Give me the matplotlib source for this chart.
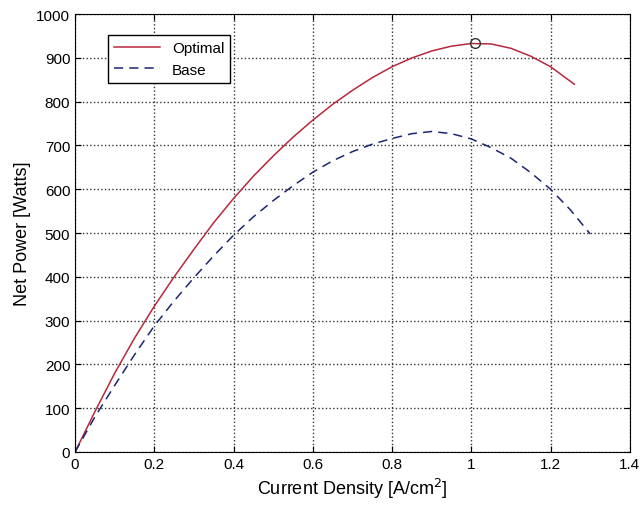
import matplotlib
matplotlib.use("Agg")
import matplotlib.pyplot as plt

plt.rcParams["font.family"] = ["Liberation Sans", "DejaVu Sans"]

# Values
current_opt = [0.0, 0.05, 0.1, 0.15, 0.2, 0.25, 0.3, 0.35, 0.4, 0.45, 0.5, 0.55, 0.6,
               0.65, 0.7, 0.75, 0.8, 0.85, 0.9, 0.95, 1.0, 1.05, 1.1, 1.15, 1.2, 1.26]
power_opt = [0, 92, 180, 260, 333, 400, 463, 524, 579, 630, 676, 719, 758,
             794, 826, 855, 880, 900, 916, 927, 933, 932, 922, 904, 880, 840]

current_base = [0.0, 0.05, 0.1, 0.15, 0.2, 0.25, 0.3, 0.35, 0.4, 0.45, 0.5, 0.55, 0.6,
                0.65, 0.7, 0.75, 0.8, 0.85, 0.9, 0.95, 1.0, 1.05, 1.1, 1.15, 1.2, 1.25, 1.3]
power_base = [0, 80, 152, 222, 288, 345, 398, 448, 495, 537, 574, 608, 639,
              665, 686, 703, 716, 727, 732, 727, 715, 695, 671, 638, 600, 553, 498]

peak_x = [1.01]
peak_y = [934]

fig = plt.figure(figsize=(6.42, 5.06), dpi=100)
ax = fig.add_axes([0.117, 0.105, 0.864, 0.865])

ax.plot(current_opt, power_opt, color="#b8283c", lw=1.1, label="Optimal")
ax.plot(current_base, power_base, color="#1c2670", lw=1.1, ls=(0, (6, 4)), label="Base")
ax.plot(peak_x, peak_y, "o", ms=7, mfc="none", mec="#333333", mew=1)

ax.set_xlim(0, 1.4)
ax.set_ylim(0, 1000)
ax.set_xticks([0, 0.2, 0.4, 0.6, 0.8, 1, 1.2, 1.4])
ax.set_xticklabels(["0", "0.2", "0.4", "0.6", "0.8", "1", "1.2", "1.4"])
ax.set_yticks(range(0, 1001, 100))
ax.tick_params(direction="in", labelsize=11, top=True, right=True, length=4)
ax.grid(True, ls=":", color="#333333", lw=1)

ax.set_xlabel("Current Density [A/cm$^2$]", fontsize=13)
ax.set_ylabel("Net Power [Watts]", fontsize=13)

leg = ax.legend(loc="upper left", bbox_to_anchor=(0.045, 0.97), fontsize=11,
                fancybox=False, edgecolor="black", framealpha=1, handlelength=3)
leg.get_frame().set_linewidth(1)

fig.savefig("out.png", dpi=100)
